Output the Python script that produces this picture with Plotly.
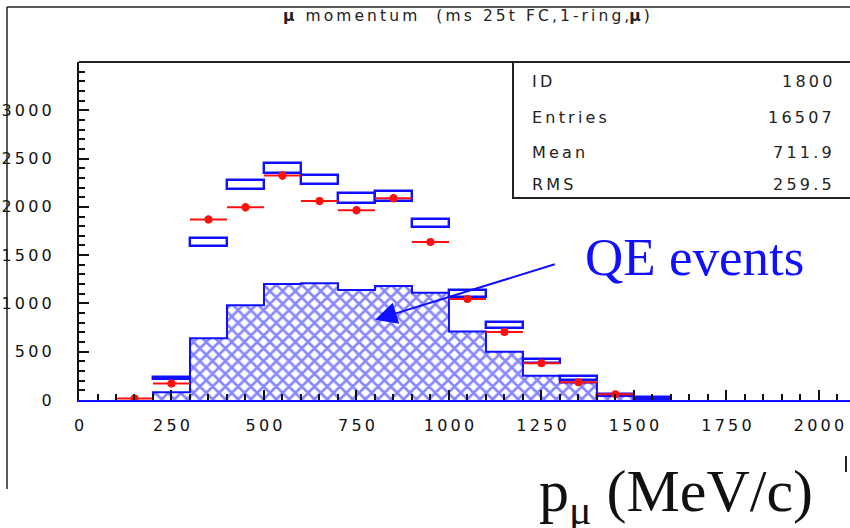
import plotly.graph_objects as go

# ---- data -------------------------------------------------------------
# QE-event histogram (bin low edges, 100 MeV/c wide)
qe_edges = [200, 300, 400, 500, 600, 700, 800, 900, 1000, 1100, 1200, 1300, 1400, 1500]
qe_counts = [80, 640, 980, 1200, 1210, 1140, 1180, 1110, 710, 500, 250, 180, 60, 25]

# MC expectation boxes (bin centres, central value, half height)
mc_centres = [250, 350, 450, 550, 650, 750, 850, 950, 1050, 1150, 1250, 1350, 1450, 1550]
mc_values = [230, 1632, 2228, 2398, 2285, 2090, 2110, 1830, 1102, 775, 402, 228, 50, 18]
mc_halfh = [12, 42, 48, 52, 50, 50, 50, 40, 38, 30, 22, 22, 12, 8]

# data points (bin centres, counts, stat. errors)
data_centres = [150, 250, 350, 450, 550, 650, 750, 850, 950, 1050, 1150, 1250, 1350, 1450]
data_counts = [15, 170, 1870, 1995, 2325, 2060, 1965, 2090, 1635, 1045, 705, 380, 185, 60]
data_err = [6, 20, 40, 42, 45, 42, 42, 42, 38, 30, 25, 18, 14, 8]

bin_width = 100

x_ticks = [0, 250, 500, 750, 1000, 1250, 1500, 1750, 2000]
y_ticks = [0, 500, 1000, 1500, 2000, 2500, 3000]

stats_labels = ["ID", "Entries", "Mean", "RMS"]
stats_values = ["1800", "16507", "711.9", "259.5"]

THIN = "\u2009"
BLUE = "#1010ff"
RED = "#ff1010"
INK = "#111111"


def spaced(s):
    return THIN.join(s)


# ---- figure -----------------------------------------------------------
fig = go.Figure()

qe_centres = [e + bin_width / 2 for e in qe_edges]
fig.add_trace(go.Bar(
    x=qe_centres, y=qe_counts, width=bin_width,
    marker=dict(color="white", line=dict(width=0),
                pattern=dict(shape="x", fgcolor=BLUE, bgcolor="white",
                             size=9, solidity=0.5)),
    showlegend=False, hoverinfo="skip",
))

# step outline of the QE histogram
step_x = [qe_edges[0]] + qe_edges + [qe_edges[-1] + bin_width] * 2
step_y = [0] + qe_counts + [qe_counts[-1], 0]
fig.add_trace(go.Scatter(
    x=step_x, y=step_y, mode="lines", line_shape="hv",
    line=dict(color=BLUE, width=2), showlegend=False, hoverinfo="skip",
))

# open MC boxes
fig.add_trace(go.Bar(
    x=mc_centres,
    y=[2 * h for h in mc_halfh],
    base=[v - h for v, h in zip(mc_values, mc_halfh)],
    width=bin_width,
    marker=dict(color="rgba(0,0,0,0)", line=dict(color=BLUE, width=2.4)),
    showlegend=False, hoverinfo="skip",
))

# data points
fig.add_trace(go.Scatter(
    x=data_centres, y=data_counts, mode="markers",
    marker=dict(color=RED, size=8, symbol="circle"),
    error_x=dict(type="constant", value=bin_width / 2, color=RED,
                 thickness=2, width=0),
    error_y=dict(type="data", array=data_err, color=RED,
                 thickness=3, width=0),
    showlegend=False, hoverinfo="skip",
))

tick_font = dict(family="DejaVu Sans", size=16, color=INK)

fig.update_layout(
    width=850, height=528,
    margin=dict(l=79, r=0, t=62, b=128, pad=0),
    paper_bgcolor="white", plot_bgcolor="white",
    barmode="overlay", bargap=0,
    xaxis=dict(
        range=[0, 2084], showgrid=False, zeroline=False,
        showline=True, linecolor=BLUE, linewidth=2,
        tickmode="array", tickvals=x_ticks,
        ticktext=[spaced(str(v)) for v in x_ticks],
        ticks="inside", ticklen=10, tickwidth=1.5, tickcolor=INK,
        minor=dict(tickmode="linear", tick0=0, dtick=50, ticks="inside",
                   ticklen=6, tickwidth=1.5, tickcolor=INK),
        tickfont=tick_font, ticklabelstandoff=10,
    ),
    yaxis=dict(
        range=[0, 3500], showgrid=False, zeroline=False,
        showline=True, linecolor=INK, linewidth=2,
        tickmode="array", tickvals=y_ticks,
        ticktext=[spaced(str(v)) for v in y_ticks],
        ticks="inside", ticklen=10, tickwidth=1.5, tickcolor=INK,
        minor=dict(tickmode="linear", tick0=0, dtick=100, ticks="inside",
                   ticklen=6, tickwidth=1.5, tickcolor=INK),
        tickfont=tick_font, ticklabelstandoff=22,
    ),
)


def px_x(px):
    return (px - 79) / 771


def px_y(py):
    return (400 - py) / 338


shapes = [
    # outer frame
    dict(type="line", xref="paper", yref="paper", x0=px_x(7), x1=px_x(860),
         y0=px_y(7), y1=px_y(7), line=dict(color="#222222", width=1.5)),
    dict(type="line", xref="paper", yref="paper", x0=px_x(7), x1=px_x(7),
         y0=px_y(7), y1=px_y(489), line=dict(color="#222222", width=1.5)),
    # top edge of the plot frame
    dict(type="line", xref="paper", yref="paper", x0=0, x1=px_x(860),
         y0=1, y1=1, line=dict(color="#222222", width=2)),
    # statistics box
    dict(type="rect", xref="paper", yref="paper", x0=px_x(513), x1=px_x(870),
         y0=px_y(198), y1=1, fillcolor="white",
         line=dict(color="#222222", width=2)),
    # fragment at the right edge
    dict(type="line", xref="paper", yref="paper", x0=px_x(846), x1=px_x(846),
         y0=px_y(456), y1=px_y(472), line=dict(color="#222222", width=2)),
]
fig.update_layout(shapes=shapes)

annotations = []
title_text = ("<b>μ</b>" + THIN + spaced(" momentum  (ms 25t FC,1-ring,")
              + "<b>μ</b>" + THIN + ")")
annotations.append(dict(
    text=title_text, xref="paper", yref="paper", x=px_x(466), y=px_y(16),
    xanchor="center", yanchor="middle", showarrow=False,
    font=dict(family="DejaVu Sans", size=15.5, color="#222222"),
))

stats_rows = [82, 117, 152, 184]
stat_font = dict(family="DejaVu Sans", size=16, color="#222222")
for lab, val, row in zip(stats_labels, stats_values, stats_rows):
    annotations.append(dict(
        text=spaced(lab), xref="paper", yref="paper", x=px_x(530), y=px_y(row),
        xanchor="left", yanchor="middle", showarrow=False, font=stat_font,
    ))
    annotations.append(dict(
        text=spaced(val), xref="paper", yref="paper", x=px_x(834), y=px_y(row),
        xanchor="right", yanchor="middle", showarrow=False, font=stat_font,
    ))

# QE label and arrow
annotations.append(dict(
    text="QE events", xref="x", yref="y", x=1665, y=1480,
    xanchor="center", yanchor="middle", showarrow=False,
    font=dict(family="Liberation Serif", size=53, color=BLUE),
))
annotations.append(dict(
    text="", xref="x", yref="y", x=800, y=830,
    axref="x", ayref="y", ax=1290, ay=1410,
    showarrow=True, arrowhead=2, arrowsize=2.2, arrowwidth=2,
    arrowcolor=BLUE,
))

# axis title
annotations.append(dict(
    text="p<sub>μ</sub> (MeV/c)", xref="paper", yref="paper",
    x=px_x(676), y=px_y(495), xanchor="center", yanchor="middle",
    showarrow=False,
    font=dict(family="Liberation Serif", size=60, color=INK),
))

fig.update_layout(annotations=annotations)

fig.write_html("out.html")
